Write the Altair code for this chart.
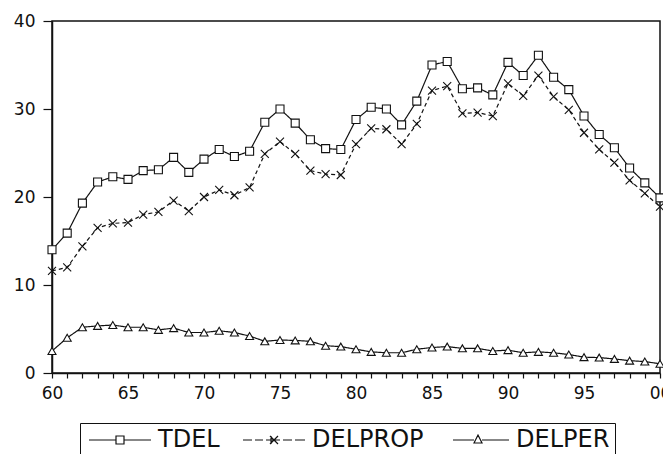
import altair as alt
import pandas as pd

years = list(range(1960, 2001))
series_names = ["TDEL", "DELPROP", "DELPER"]

tdel = [14.0, 15.9, 19.3, 21.7, 22.3, 22.0, 23.0, 23.1, 24.5, 22.8,
        24.3, 25.4, 24.6, 25.2, 28.5, 30.0, 28.4, 26.5, 25.5, 25.4,
        28.8, 30.2, 30.0, 28.2, 30.9, 35.0, 35.4, 32.3, 32.4, 31.6,
        35.3, 33.8, 36.1, 33.6, 32.2, 29.2, 27.1, 25.6, 23.3, 21.6,
        19.9]
delprop = [11.6, 12.0, 14.4, 16.5, 17.0, 17.1, 18.0, 18.3, 19.6, 18.4,
           20.0, 20.8, 20.2, 21.1, 24.9, 26.3, 24.9, 23.0, 22.6, 22.5,
           26.0, 27.8, 27.7, 26.0, 28.3, 32.1, 32.6, 29.5, 29.6, 29.2,
           32.9, 31.5, 33.8, 31.4, 29.9, 27.3, 25.4, 23.9, 21.9, 20.4,
           18.9]
delper = [2.5, 4.0, 5.2, 5.35, 5.45, 5.2, 5.2, 4.9, 5.1, 4.6,
          4.6, 4.8, 4.6, 4.2, 3.6, 3.75, 3.7, 3.6, 3.1, 3.0,
          2.7, 2.4, 2.3, 2.3, 2.7, 2.9, 3.0, 2.8, 2.8, 2.5,
          2.6, 2.3, 2.4, 2.3, 2.1, 1.8, 1.75, 1.6, 1.4, 1.3,
          1.05]

rows = []
for name, vals in zip(series_names, [tdel, delprop, delper]):
    for yr, v in zip(years, vals):
        rows.append({"year": yr, "series": name, "value": v})
df = pd.DataFrame(rows)

INK = "#111111"
FONT = "DejaVu Sans"

x_enc = alt.X(
    "year:Q",
    scale=alt.Scale(domain=[1960, 2000], nice=False, zero=False),
    axis=alt.Axis(
        title=None, values=years,
        labelExpr="datum.value % 5 == 0 ? format(datum.value % 100, '02d') : ''",
        labelFlush=False, labelOverlap=False, tickSize=5, labelPadding=7,
        grid=False, domainColor=INK, domainWidth=1.5, tickColor=INK, tickWidth=1.2,
        labelFont=FONT, labelFontSize=17, labelColor=INK,
    ),
)
y_enc = alt.Y(
    "value:Q",
    scale=alt.Scale(domain=[0, 40], nice=False),
    axis=alt.Axis(
        title=None, values=[0, 10, 20, 30, 40], tickSize=9, labelPadding=8,
        grid=False, domainColor=INK, domainWidth=1.5, tickColor=INK, tickWidth=1.2,
        labelFont=FONT, labelFontSize=17, labelColor=INK,
    ),
)

base = alt.Chart(df).encode(x=x_enc, y=y_enc, detail="series:N")

lines = base.mark_line(color=INK, strokeWidth=1.2).encode(
    strokeDash=alt.StrokeDash(
        "series:N",
        scale=alt.Scale(domain=series_names, range=[[1, 0], [4, 3], [1, 0]]),
        legend=None,
    )
)

X_PATH = "M-1,-1L1,1M-1,1L1,-1"
points = base.mark_point(
    filled=True, fill="white", stroke=INK, strokeWidth=1.1, size=64, opacity=1
).encode(
    shape=alt.Shape(
        "series:N",
        scale=alt.Scale(domain=series_names, range=["square", X_PATH, "triangle-up"]),
        legend=None,
    )
)

# legend glyphs drawn in pixel units (symbolSize=4 -> unit scale 1px)
P_TDEL = "M-8,0H19M27,0H54M19,-4H27V4H19Z"
P_DELPROP = ("M-8,0H1M4,0H12M15,0H29M32,0H41M44,0H54"
             "M19,-4L27,4M19,4L27,-4M20,-4V4")
P_DELPER = "M-2,0H19M27,0H54M19,3L23,-5L27,3Z"

legend_layer = base.transform_filter("false").mark_point(
    filled=False, stroke=INK, strokeWidth=1.2, opacity=1
).encode(
    shape=alt.Shape(
        "series:N",
        scale=alt.Scale(domain=series_names, range=[P_TDEL, P_DELPROP, P_DELPER]),
        legend=alt.Legend(
            title=None, orient="none", legendX=28, legendY=402,
            direction="horizontal", symbolSize=4, symbolStrokeWidth=1.2,
            symbolStrokeColor=INK, labelFont=FONT, labelFontSize=24,
            labelColor=INK, labelOffset=49, columnPadding=19, padding=5,
            strokeColor=INK, fillColor="white", labelLimit=0,
        ),
    )
)

chart = (
    alt.layer(lines, points, legend_layer)
    .resolve_scale(shape="independent")
    .properties(
        width=608, height=352,
        padding={"left": 44, "top": 13, "right": 3, "bottom": 81},
        autosize=alt.AutoSizeParams(type="none"),
        background="white",
    )
    .configure_view(stroke=INK, strokeWidth=1.5)
)

chart.save("out.html", embed_options={"renderer": "svg", "actions": False})
